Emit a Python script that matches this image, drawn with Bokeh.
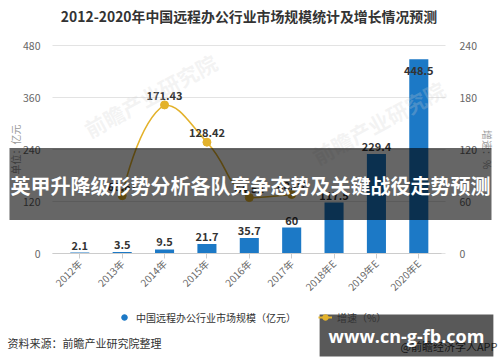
import math
from bokeh.plotting import figure
from bokeh.models import (Range1d, LinearAxis, Label, ColumnDataSource,
                          Legend, LegendItem, FixedTicker)
from bokeh.core.properties import value
from bokeh.embed import file_html
from bokeh.resources import INLINE

# ---------------- data ----------------
title_text = "2012-2020年中国远程办公行业市场规模统计及增长情况预测"
years = ["2012年", "2013年", "2014年", "2015年", "2016年", "2017年", "2018年E", "2019年E", "2020年E"]
market = [2.1, 3.5, 9.5, 21.7, 35.7, 60, 117.5, 229.4, 448.5]
growth_years = ["2013年", "2014年", "2015年", "2016年", "2017年"]
growth = [66.67, 171.43, 128.42, 64.52, 68.07]
left_ticks = [0, 120, 240, 360, 480]
right_ticks = [0, 60, 120, 180, 240]
bar_name = "中国远程办公行业市场规模（亿元）"
line_name = "增速（%）"
left_label = "单位：亿元"
right_label = "增速：%"
source_note = "资料来源：前瞻产业研究院整理"
app_note = "@前瞻经济学人APP"
banner_text = "英甲升降级形势分析各队竞争态势及关键战役走势预测"
site_text = "www.cn-g-fb.com"
watermark_text = "前瞻产业研究院"

# ---------------- style / layout (pixel geometry) ----------------
FONT = "Noto Sans CJK SC"
BLUE = "#1c79c6"
GOLD = "#e3b22c"
W, H = 500, 362
AL, AR, AT, AB = 52, 445, 45, 253      # plot area edges (px)
X0, STEP = 79.3, 42.375                # first category centre, category spacing (px)
px_y = (AB - AT) / left_ticks[-1]
px_r = (AB - AT) / right_ticks[-1]


def dx(sx):
    return (sx - X0) / STEP


def dy(sy):
    return (AB - sy) / px_y


idx = list(range(len(years)))

p = figure(width=W, height=H,
           x_range=Range1d(dx(0), dx(W)), y_range=Range1d(dy(H), dy(0)),
           output_backend="svg", toolbar_location=None,
           min_border=0, min_border_left=0, min_border_right=0, min_border_top=0, min_border_bottom=0,
           outline_line_color=None, background_fill_color="white", border_fill_color="white")
p.extra_y_ranges = {"rate": Range1d((AB - H) / px_r, AB / px_r)}

# grid lines across the plot area only
p.xgrid.grid_line_color = None
p.ygrid.grid_line_color = None
p.segment(x0=[dx(AL)] * len(left_ticks), x1=[dx(AR)] * len(left_ticks),
          y0=left_ticks, y1=left_ticks, line_color="#e3e3e3", line_width=1)

# faint publisher watermarks
for (wx, wy) in [(150, 95), (378, 122)]:
    p.add_layout(Label(x=dx(wx), y=dy(wy), text=watermark_text, text_align="center", text_baseline="middle",
                       angle=0.5, text_font=FONT, text_font_size="21px", text_font_style="bold",
                       text_color="#d0d0d0", text_alpha=0.25))

# left axis
la = p.yaxis[0]
la.fixed_location = dx(AL)
la.bounds = (left_ticks[0], left_ticks[-1])
la.ticker = FixedTicker(ticks=left_ticks)
la.axis_line_color = None
la.major_tick_line_color = None
la.minor_tick_line_color = None
la.major_label_standoff = 6
la.major_label_text_font = FONT
la.major_label_text_font_size = "10.5px"
la.major_label_text_color = "#666666"
la.axis_label = left_label
la.axis_label_standoff = -3
la.axis_label_text_font = FONT
la.axis_label_text_font_size = "10px"
la.axis_label_text_font_style = "normal"
la.axis_label_text_color = "#999999"

# right axis
ra = LinearAxis(y_range_name="rate", ticker=FixedTicker(ticks=right_ticks))
ra.fixed_location = dx(AR)
ra.bounds = (right_ticks[0], right_ticks[-1])
ra.axis_line_color = None
ra.major_tick_line_color = None
ra.minor_tick_line_color = None
ra.major_label_standoff = 8
ra.major_label_text_font = FONT
ra.major_label_text_font_size = "10.5px"
ra.major_label_text_color = "#666666"
ra.axis_label = right_label
ra.axis_label_standoff = 0
ra.axis_label_text_font = FONT
ra.axis_label_text_font_size = "10px"
ra.axis_label_text_font_style = "normal"
ra.axis_label_text_color = "#999999"
p.add_layout(ra, "right")

# bottom axis (categories)
xa = p.xaxis[0]
xa.fixed_location = 0
xa.bounds = (dx(AL), dx(AR - 4))
xa.ticker = FixedTicker(ticks=idx)
xa.major_label_overrides = {i: y for i, y in zip(idx, years)}
xa.axis_line_color = "#cccccc"
xa.major_tick_line_color = "#cccccc"
xa.minor_tick_line_color = None
xa.major_tick_in = 0
xa.major_tick_out = 5
xa.major_label_orientation = math.pi / 4
xa.major_label_standoff = 3
xa.major_label_text_font = FONT
xa.major_label_text_font_size = "10px"
xa.major_label_text_color = "#666666"

# bars
src = ColumnDataSource(dict(x=idx, market=market))
bars = p.vbar(x="x", top="market", width=0.45, source=src, fill_color=BLUE, line_color=None)

inside_limit = 0.9 * left_ticks[-1]
out_idx = [i for i, v in enumerate(market) if v < inside_limit]
in_idx = [i for i, v in enumerate(market) if v >= inside_limit]
txt_kw = dict(text_align="center", text_font=value(FONT), text_font_size="11px",
              text_font_style="bold", text_color="#333333")
p.text(x=out_idx, y=[market[i] for i in out_idx],
       text=[f"{market[i]:g}" for i in out_idx], text_baseline="bottom", y_offset=-3, **txt_kw)
p.text(x=in_idx, y=[market[i] for i in in_idx],
       text=[f"{market[i]:g}" for i in in_idx], text_baseline="top", y_offset=7, **txt_kw)

# smooth growth line (bezier segments through the data points)
gx = [years.index(y) for y in growth_years]
P = [(x * STEP, g * px_r) for x, g in zip(gx, growth)]
n = len(P)
s = 0.5
ymin, ymax = min(pt[1] for pt in P), max(pt[1] for pt in P)
cp_prev = [None] * n
cp_next = [None] * n
cp_next[0] = P[0]
cp_prev[-1] = P[-1]
for i in range(1, n - 1):
    vx = P[i + 1][0] - P[i - 1][0]
    vy = P[i + 1][1] - P[i - 1][1]
    d0 = math.hypot(P[i][0] - P[i - 1][0], P[i][1] - P[i - 1][1])
    d1 = math.hypot(P[i + 1][0] - P[i][0], P[i + 1][1] - P[i][1])
    r = d1 / (d0 + d1)
    cp_prev[i] = (P[i][0] - vx * s * (1 - r), min(max(P[i][1] - vy * s * (1 - r), ymin), ymax))
    cp_next[i] = (P[i][0] + vx * s * r, min(max(P[i][1] + vy * s * r, ymin), ymax))
bz = ColumnDataSource(dict(
    x0=[gx[i] for i in range(n - 1)], y0=[growth[i] for i in range(n - 1)],
    x1=[gx[i + 1] for i in range(n - 1)], y1=[growth[i + 1] for i in range(n - 1)],
    cx0=[cp_next[i][0] / STEP for i in range(n - 1)], cy0=[cp_next[i][1] / px_r for i in range(n - 1)],
    cx1=[cp_prev[i + 1][0] / STEP for i in range(n - 1)], cy1=[cp_prev[i + 1][1] / px_r for i in range(n - 1)],
))
p.bezier(x0="x0", y0="y0", x1="x1", y1="y1", cx0="cx0", cy0="cy0", cx1="cx1", cy1="cy1",
         source=bz, line_color=GOLD, line_width=1.6, y_range_name="rate")
pts = p.scatter(x=gx, y=growth, size=8, fill_color=GOLD, line_color=GOLD, y_range_name="rate")
p.text(x=gx, y=growth, text=[f"{g:.2f}" for g in growth], text_baseline="bottom",
       y_offset=-5, y_range_name="rate", **txt_kw)

# legend (hidden helper renderers only supply the legend glyphs)
leg_dot = p.scatter(x=idx, y=market, marker="circle", size=9, fill_color=BLUE, line_color=BLUE, visible=False)
leg_line = p.line(x=gx, y=growth, line_color=GOLD, line_width=2, y_range_name="rate", visible=False)
legend = Legend(items=[LegendItem(label=bar_name, renderers=[leg_dot]),
                       LegendItem(label=line_name, renderers=[leg_line, pts])],
                location=(117, H - 326), orientation="horizontal",
                glyph_width=14, glyph_height=18, label_height=18, label_standoff=5, spacing=22,
                padding=0, margin=0, border_line_color=None, background_fill_alpha=0,
                inactive_fill_alpha=0,
                label_text_font=FONT, label_text_font_size="10px", label_text_color="#333333")
p.add_layout(legend)

# texts around the chart
p.add_layout(Label(x=dx(248.5), y=dy(15), text=title_text, text_align="center", text_baseline="middle",
                   text_font=FONT, text_font_size="13.9px", text_font_style="bold", text_color="#333333"))
p.add_layout(Label(x=dx(7), y=dy(342), text=source_note, text_align="left", text_baseline="middle",
                   text_font=FONT, text_font_size="11px", text_color="#333333"))
p.add_layout(Label(x=dx(497), y=dy(345), text=app_note, text_align="right", text_baseline="middle",
                   text_font=FONT, text_font_size="11px", text_color="#444444"))
p.add_layout(Label(x=dx(406), y=dy(335), text=site_text, text_align="center", text_baseline="middle",
                   text_font="Open Sans", text_font_size="18px", text_font_style="bold",
                   text_color="white", background_fill_color="black", background_fill_alpha=0.65,
                   padding=dict(left=9, right=9, top=9, bottom=9)))
p.add_layout(Label(x=dx(250), y=dy(183.5), text=banner_text, text_align="center", text_baseline="middle",
                   text_font=FONT, text_font_size="20px", text_font_style="bold",
                   text_color="white", background_fill_color="black", background_fill_alpha=0.6,
                   padding=dict(left=1, right=1, top=23, bottom=20)))

open("out.html", "w").write(file_html(p, INLINE))
